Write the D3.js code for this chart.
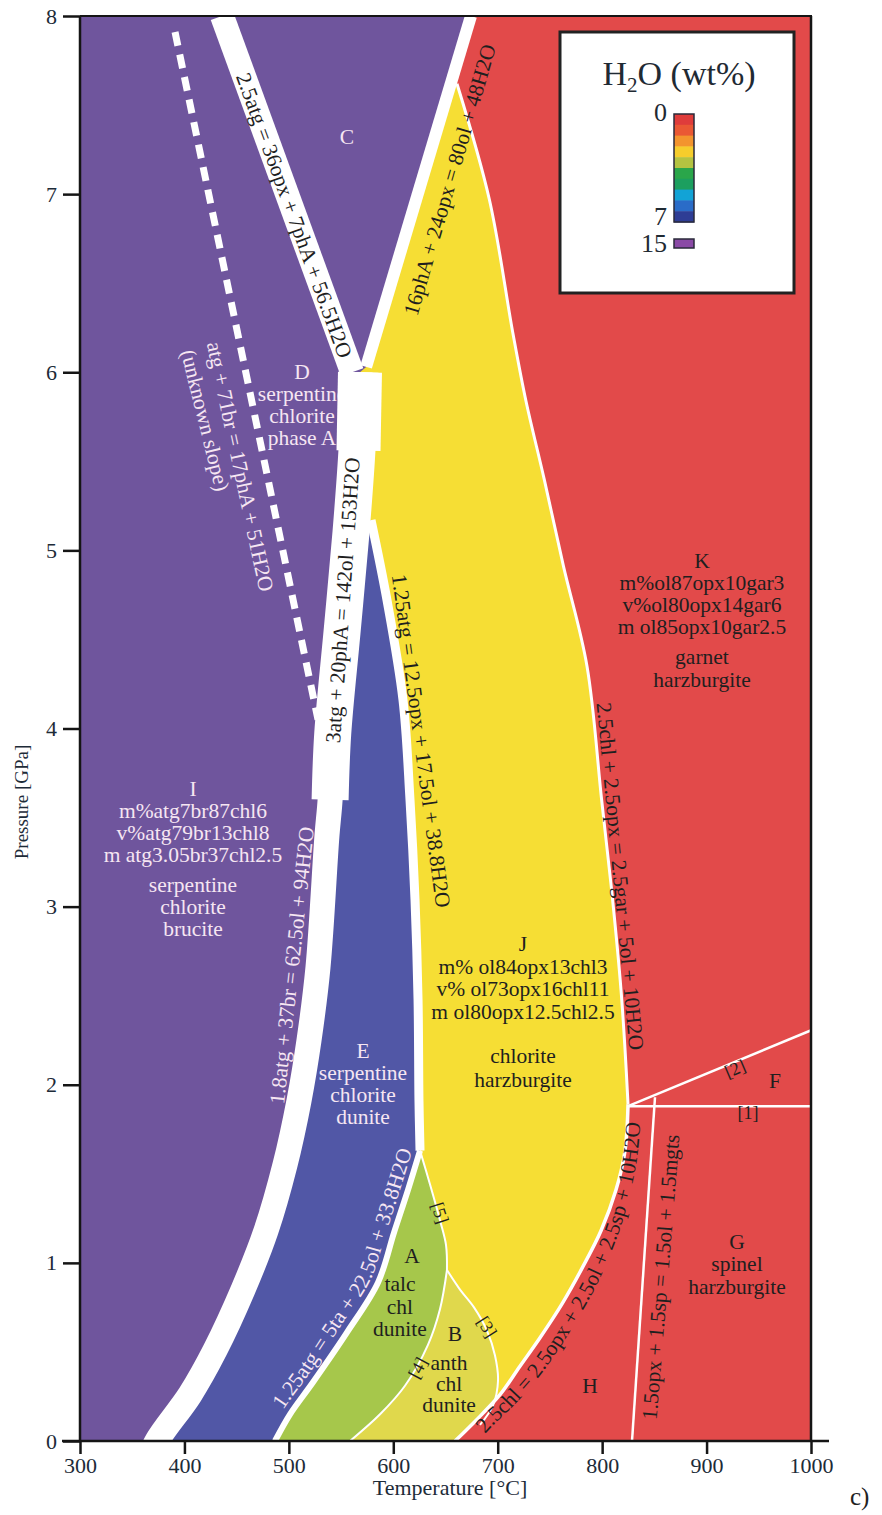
<!DOCTYPE html>
<html><head><meta charset="utf-8">
<script src="https://cdn.jsdelivr.net/npm/d3@7"></script>
<style>
body{margin:0;background:#fff}
svg{display:block}
text{font-family:"Liberation Serif","Times New Roman",serif}
</style>
</head><body>
<script>
// ---------- axis ticks ----------
const xTicks = [300,400,500,600,700,800,900,1000];
const yTicks = [0,1,2,3,4,5,6,7,8];

// ---------- phase boundaries [T (°C), P (GPa)] ----------
const lineW1 = [[436,8.0],[560.5,6.0]];                       // 2.5atg = 36opx + 7phA + 56.5H2O
const lineW2 = [[674.4,8.0],[574,6.03]];                      // 16phA + 24opx = 80ol + 48H2O
const lineDashed = [[391,7.91],[527.9,4.05]];                 // atg + 71br = 17phA + 51H2O
const bandCenter = [[568.1,6.0],[565.3,5.57],[559.5,5.10],[550.9,4.54],[542,3.97],[539.5,3.60],[536.5,3.40],
  [527.9,2.66],[519.3,2.25],[509.7,1.91],[496.3,1.55],[478.1,1.18],[456.1,0.85],[429.3,0.51],[405.3,0.26],[373.7,0],[365,-0.12]];
const band3atg = [[568.1,6.0],[565.3,5.57],[559.5,5.10],[550.9,4.54],[542,3.97],[539.5,3.60]];
const band3atgTop = [[568.1,6.0],[566.7,5.56]];
const curveBY = [[578.7,5.17],[594.0,4.72],[609.3,4.16],[616.0,3.60],[620.8,3.04],[623.7,2.48],[624.6,1.91],[625.6,1.63]];
const curve5ta = [[625.6,1.63],[614.1,1.41],[600.7,1.17],[585.4,0.89],[555.7,0.61],[523.1,0.33],[501.1,0.15],[486.7,0]];
const curve5 = [[625.6,1.63],[635.2,1.44],[644.7,1.24],[650.5,1.10],[651.4,0.96]];
const curve4 = [[651.4,0.96],[644.7,0.74],[633.2,0.54],[611.2,0.31],[587.3,0.15],[558.6,0]];
const curve3 = [[651.4,0.96],[663.9,0.85],[677.3,0.75],[689.7,0.62],[697.4,0.48],[700.3,0.34],[695.5,0.20],[683.0,0.09]];
const curveRY = [[661.0,7.62],[692.0,6.97],[714.5,6.22],[727.0,5.84],[744.5,5.40],[763.0,4.91],[785.5,4.35],
  [799.5,3.60],[810.0,3.04],[818.1,2.53],[821.9,2.20],[824.8,1.89]];
const curveH = [[824.8,1.89],[821.9,1.63],[813.3,1.41],[798.9,1.18],[781.7,0.98],[761.6,0.77],[740.5,0.58],
  [721.3,0.42],[702.2,0.26],[678.2,0.11],[659.1,0]];
const line1 = [[824.8,1.88],[1001,1.88]];
const line2 = [[824.8,1.88],[1006,2.32]];
const lineMgts = [[850.6,1.93],[828.6,0]];

// text paths for curved reaction labels
const pathH = [[671.5,-0.08],[692.5,0.07],[715.5,0.20],[736.7,0.34],[757.7,0.51],[776.9,0.69],[796.0,0.89],
  [811.4,1.10],[823.8,1.32],[832.4,1.55],[836.3,1.77],[837.2,1.94]];
const path5ta = [[481.9,0.05],[496.3,0.19],[517.4,0.36],[549.0,0.64],[577.7,0.90],[593.1,1.17],[606.5,1.41],[618.0,1.63],[623.7,1.77]];

// ---------- legend ----------
const legendColors = ["#df3c3b","#ea5834","#f3942e","#f6cd2c","#b4c341","#2aa64a","#1c9f5f","#12a3d6","#2a6cc8","#2e3d95"];
const legendLabels = ["0","7","15"];

// ---------- drawing ----------
const W = 882, H = 1515;
const svg = d3.select('body').append('svg').attr('width', W).attr('height', H);
const x = d3.scaleLinear().domain([300,1000]).range([80,811]);
const y = d3.scaleLinear().domain([0,8]).range([1441,16]);

const lineC = d3.line().x(d=>x(d[0])).y(d=>y(d[1])).curve(d3.curveCatmullRom.alpha(0.5));
const lineL = d3.line().x(d=>x(d[0])).y(d=>y(d[1]));
function joinPath(parts){
  return parts.map((p,i)=>{ const s=(p.c?lineC:lineL)(p.pts); return i ? 'L'+s.slice(1) : s; }).join('') + 'Z';
}
const rev = a => a.slice().reverse();

const COL = {purple:"#6f559d", blue:"#5157a6", red:"#e24a4a", yellow:"#f6de34", green:"#a6c74b", khaki:"#e0d84c"};
const LIGHT = "#f6e6f2", DARK = "#1f1f1f";
const FS = 21.5;

svg.append('defs').append('clipPath').attr('id','plotClip')
  .append('rect').attr('x',x(300)).attr('y',y(8)).attr('width',x(1000)-x(300)).attr('height',y(0)-y(8));
const plot = svg.append('g').attr('clip-path','url(#plotClip)');

// background purple (C, D, I)
plot.append('rect').attr('x',x(300)).attr('y',y(8)).attr('width',x(1000)-x(300)).attr('height',y(0)-y(8)).attr('fill',COL.purple);
// yellow J
plot.append('path').attr('fill',COL.yellow).attr('d', joinPath([
  {pts:lineW2}, {pts:bandCenter, c:true}, {pts:[[1000,-0.12],[1000,8]]}
]));
// blue E
plot.append('path').attr('fill',COL.blue).attr('d', joinPath([
  {pts:curveBY, c:true}, {pts:curve5ta, c:true}, {pts:[[486.7,0],[373.7,0]]},
  {pts:rev(bandCenter.slice(2,16)), c:true}
]));
// green A
plot.append('path').attr('fill',COL.green).attr('d', joinPath([
  {pts:curve5ta, c:true}, {pts:[[486.7,0],[558.6,0]]}, {pts:rev(curve4), c:true}, {pts:rev(curve5), c:true}
]));
// khaki B
plot.append('path').attr('fill',COL.khaki).attr('d', joinPath([
  {pts:curve3, c:true}, {pts:[[683.0,0.09],[675,0],[558.6,0]]}, {pts:rev(curve4), c:true}
]));
// red (K, F, G, H)
plot.append('path').attr('fill',COL.red).attr('d', joinPath([
  {pts:[[674.4,8.0],[655,7.62]]}, {pts:curveRY, c:true}, {pts:curveH, c:true}, {pts:[[659.1,0],[1000,0],[1000,8]]}
]));

// thin white boundaries
function wline(pts, w, curved, g){ (g||plot).append('path').attr('d',(curved?lineC:lineL)(pts)).attr('fill','none')
  .attr('stroke','#fff').attr('stroke-width',w).attr('stroke-linecap','butt'); }
wline(curveRY, 3, true);
wline(curveH, 3.5, true);
wline(curveBY, 9, true);
wline(curve5ta, 6, true);
wline(curve5, 2, true); wline(curve4, 2, true); wline(curve3, 2, true);
wline(line1, 2.5, false, svg); wline(line2, 2.5, false, svg); wline(lineMgts, 2.5, false);

// region labels (drawn before the thick bands so the bands overlap them)
const regionLabels = [
  {lines:["C"], T:555.7, P:7.28, lh:22, col:LIGHT},
  {lines:["D","serpentine","chlorite","phase A"], T:512.6, P:5.96, lh:22, col:LIGHT},
  {lines:["I","m%atg7br87chl6","v%atg79br13chl8","m atg3.05br37chl2.5"], T:408.2, P:3.62, lh:22, col:LIGHT},
  {lines:["serpentine","chlorite","brucite"], T:408.2, P:3.08, lh:22, col:LIGHT},
  {lines:["E","serpentine","chlorite","dunite"], T:571.0, P:2.15, lh:22, col:LIGHT},
  {lines:["J","m% ol84opx13chl3","v% ol73opx16chl11","m ol80opx12.5chl2.5"], T:724.2, P:2.75, lh:22.5, col:DARK},
  {lines:["chlorite","harzburgite"], T:724.2, P:2.12, lh:24, col:DARK},
  {lines:["K","m%ol87opx10gar3","v%ol80opx14gar6","m ol85opx10gar2.5"], T:895.6, P:4.90, lh:22, col:DARK},
  {lines:["garnet","harzburgite"], T:895.6, P:4.36, lh:23, col:DARK},
  {lines:["F"], T:965.5, P:1.98, lh:22, col:DARK},
  {lines:["G","spinel","harzburgite"], T:929.1, P:1.08, lh:22.5, col:DARK},
  {lines:["H"], T:788.4, P:0.27, lh:22, col:DARK},
  {lines:["A"], T:617.9, P:1.00, lh:22, col:DARK},
  {lines:["talc","chl","dunite"], T:606.4, P:0.84, lh:22.5, col:DARK},
  {lines:["B"], T:659.1, P:0.56, lh:22, col:DARK},
  {lines:["anth","chl","dunite"], T:653.4, P:0.40, lh:21, col:DARK}
];
regionLabels.forEach(l=>{
  const t = plot.append('text').attr('x',x(l.T)).attr('y',y(l.P)).attr('text-anchor','middle')
    .attr('font-size',FS).attr('fill',l.col);
  l.lines.forEach((s,i)=> t.append('tspan').attr('x',x(l.T)).attr('dy', i? l.lh : 0).text(s));
});

// thick white reaction bands
wline(lineW1, 24, false);
wline(lineW2, 12, false);
wline(bandCenter, 25, true);
wline(band3atg, 37, true);
wline(band3atgTop, 44, false);
plot.append('path').attr('d',lineL(lineDashed)).attr('fill','none').attr('stroke','#fff')
  .attr('stroke-width',7).attr('stroke-dasharray','14,9');

// small bracket labels
const bracketLabels = [
  {s:"[5]", T:644.7, P:1.28, a:72}, {s:"[4]", T:623.5, P:0.41, a:-62}, {s:"[3]", T:689.7, P:0.64, a:58},
  {s:"[2]", T:927.2, P:2.09, a:-23}, {s:"[1]", T:939.7, P:1.84, a:0}
];
bracketLabels.forEach(b=>{
  svg.append('text').attr('transform',`translate(${x(b.T)},${y(b.P)}) rotate(${b.a})`)
    .attr('text-anchor','middle').attr('dominant-baseline','central').attr('font-size',18).attr('fill',DARK).text(b.s);
});

// straight reaction labels
const reactionLabels = [
  {s:"2.5atg = 36opx + 7phA + 56.5H2O", T:504.9, P:6.88, a:70, col:DARK},
  {s:"16phA + 24opx = 80ol + 48H2O", T:654.3, P:7.08, a:-73.7, col:DARK},
  {s:"atg + 71br = 17phA + 51H2O", T:453.2, P:5.47, a:78, col:LIGHT},
  {s:"(unknown slope)", T:419.7, P:5.73, a:76, col:LIGHT},
  {s:"3atg + 20phA = 142ol + 153H2O", T:551.8, P:4.72, a:-86, col:DARK},
  {s:"1.25atg = 12.5opx + 17.5ol + 38.8H2O", T:626.5, P:3.93, a:82.4, col:DARK},
  {s:"1.8atg + 37br = 62.5ol + 94H2O", T:503.0, P:2.67, a:-83.8, col:LIGHT},
  {s:"2.5chl + 2.5opx = 2.5gar + 5ol + 10H2O", T:817.1, P:3.17, a:84.6, col:DARK},
  {s:"1.5opx + 1.5sp = 1.5ol + 1.5mgts", T:856.4, P:0.92, a:-85.4, col:DARK}
];
reactionLabels.forEach(r=>{
  svg.append('text').attr('transform',`translate(${x(r.T)},${y(r.P)}) rotate(${r.a})`)
    .attr('text-anchor','middle').attr('dominant-baseline','central').attr('font-size',FS).attr('fill',r.col).text(r.s);
});
// curved reaction labels
const defs = svg.select('defs');
defs.append('path').attr('id','pH').attr('d',lineC(pathH));
defs.append('path').attr('id','p5ta').attr('d',lineC(path5ta));
svg.append('text').attr('font-size',FS).attr('fill',DARK).append('textPath').attr('href','#pH')
  .attr('startOffset','50%').attr('text-anchor','middle').text("2.5chl = 2.5opx + 2.5ol + 2.5sp + 10H2O");
svg.append('text').attr('font-size',FS).attr('fill',LIGHT).append('textPath').attr('href','#p5ta')
  .attr('startOffset','50%').attr('text-anchor','middle').text("1.25atg = 5ta + 22.5ol + 33.8H2O");

// ---------- frame & axes ----------
const frame = svg.append('g').attr('stroke','#151515').attr('fill','none');
frame.append('line').attr('x1',x(300)).attr('x2',x(1000)+1).attr('y1',y(8)).attr('y2',y(8)).attr('stroke-width',2);
frame.append('line').attr('x1',x(1000)).attr('x2',x(1000)).attr('y1',y(8)).attr('y2',y(0)).attr('stroke-width',2.5);
frame.append('line').attr('x1',x(300)).attr('x2',x(300)).attr('y1',y(8)).attr('y2',y(0)).attr('stroke-width',2.5);
frame.append('line').attr('x1',x(300)-18).attr('x2',x(1000)+18).attr('y1',y(0)).attr('y2',y(0)).attr('stroke-width',2.5);

const gx = svg.append('g').attr('transform',`translate(0,${y(0)})`)
  .call(d3.axisBottom(x).tickValues(xTicks).tickSize(13).tickPadding(3).tickFormat(d3.format('d')));
const gy = svg.append('g').attr('transform',`translate(${x(300)},0)`)
  .call(d3.axisLeft(y).tickValues(yTicks).tickSize(17).tickPadding(6).tickFormat(d3.format('d')));
[gx,gy].forEach(g=>{
  g.select('.domain').remove();
  g.selectAll('.tick line').attr('stroke','#151515').attr('stroke-width',2.5);
  g.selectAll('.tick text').attr('font-size',22).attr('fill','#1d2b38')
    .attr('font-family','"Liberation Serif","Times New Roman",serif');
});
svg.append('text').attr('x',450).attr('y',1495).attr('text-anchor','middle').attr('font-size',22)
  .attr('fill','#1d2b38').text('Temperature [°C]');
svg.append('text').attr('transform','translate(28,802) rotate(-90)').attr('text-anchor','middle').attr('font-size',19)
  .attr('fill','#1d2b38').text('Pressure [GPa]');
svg.append('text').attr('x',850).attr('y',1505).attr('font-size',25).attr('fill','#222').text('c)');

// ---------- legend ----------
const lg = svg.append('g');
lg.append('rect').attr('x',560).attr('y',32).attr('width',234).attr('height',261).attr('fill','#fff')
  .attr('stroke','#222').attr('stroke-width',3);
const tt = lg.append('text').attr('x',679).attr('y',85).attr('text-anchor','middle').attr('font-size',34).attr('fill','#1f2a33');
tt.append('tspan').text('H');
tt.append('tspan').attr('font-size',21).attr('dy',7).text('2');
tt.append('tspan').attr('dy',-7).text('O (wt%)');
const barY = d3.scaleBand().domain(d3.range(legendColors.length)).range([114,222]);
lg.selectAll('rect.band').data(legendColors).join('rect').attr('class','band')
  .attr('x',674).attr('width',20).attr('y',(d,i)=>barY(i)).attr('height',barY.bandwidth()+0.5).attr('fill',d=>d);
lg.append('rect').attr('x',674).attr('y',114).attr('width',20).attr('height',108).attr('fill','none')
  .attr('stroke','#2a2a3a').attr('stroke-width',1.5);
lg.append('rect').attr('x',674).attr('y',239).attr('width',20).attr('height',9).attr('fill','#8a4aa6')
  .attr('stroke','#2a2a3a').attr('stroke-width',1.5);
const lgY = [121,225,252];
legendLabels.forEach((s,i)=>{
  lg.append('text').attr('x',667).attr('y',lgY[i]).attr('text-anchor','end').attr('font-size',26).attr('fill','#1f2a33').text(s);
});
</script>
</body></html>
